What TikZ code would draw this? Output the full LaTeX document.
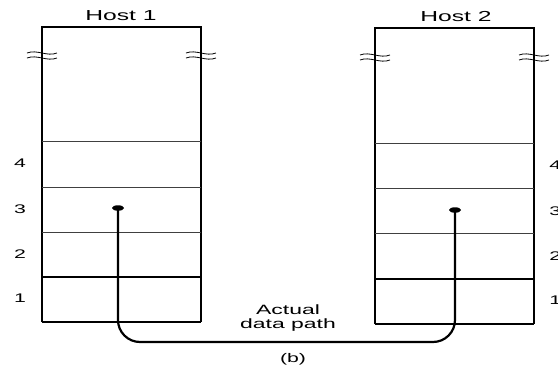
\documentclass[tikz,border=0pt]{standalone}
\usepackage{fontspec}
\setmainfont{Liberation Sans}
\usetikzlibrary{shapes.geometric}

\tikzset{
  hostlabel/.style={font=\fontsize{14.5}{16}\selectfont, xscale=1.7, inner sep=0pt},
  layernum/.style={font=\fontsize{12.5}{14}\selectfont, xscale=1.7, inner sep=0pt},
  pathlabel/.style={font=\fontsize{13.5}{14}\selectfont, xscale=1.7, inner sep=0pt, align=center},
  pathdot/.style={ellipse, fill=black, minimum width=12pt, minimum height=5.5pt, inner sep=0pt},
  layerline/.style={black!75, line width=0.7pt},
  wall/.style={line width=1.1pt},
  breakmark/.style={line width=0.8pt},
  datapath/.style={line width=2.2pt, rounded corners=22pt}
}

\begin{document}
\begin{tikzpicture}[x=1pt, y=-1pt]
    \useasboundingbox (0,0) rectangle (558,368);

    % Draw host 1
    \draw[wall] (42,322) -- (42,27) -- (201,27) -- (201,322);
    \draw[wall] (42,322) -- (201,322);
    \foreach \y in {141,187,232} \draw[layerline] (42,\y) -- (201,\y);
    \draw[wall] (42,277) -- (201,277);
    \node[hostlabel] (host1) at (121,16) {Host 1};

    % Draw host 2
    \draw[wall] (375,324) -- (375,28) -- (534,28) -- (534,324);
    \draw[wall] (375,324) -- (534,324);
    \foreach \y in {143,188,233} \draw[layerline] (375,\y) -- (534,\y);
    \draw[wall] (375,279) -- (534,279);
    \node[hostlabel] (host2) at (456,17) {Host 2};

    % Break marks on the walls
    \foreach \x/\y in {42/55, 201/55, 375/57, 534/57} {
      \draw[breakmark] (\x-15,\y-2) .. controls (\x-5,\y-6) and (\x+5,\y+2) .. (\x+15,\y-2);
      \draw[breakmark] (\x-15,\y+3) .. controls (\x-5,\y-1) and (\x+5,\y+7) .. (\x+15,\y+3);
    }

    % Layer numbers
    \foreach \n/\y in {4/163, 3/209, 2/254, 1/298} {
      \node[layernum] (l\n) at (20,\y) {\n};
      \node[layernum, anchor=west] (r\n) at (549,\y+2) {\n};
    }

    % Actual data path
    \node[pathdot] (d1) at (118,208) {};
    \node[pathdot] (d2) at (455,210) {};
    \coordinate (bend) at (290,342);
    \draw[datapath] (d1.center) |- (bend) -| (d2.center);
    \node[pathlabel] (actual) at (288,318) {Actual\\data path};
    \node[hostlabel, font=\fontsize{12.5}{14}\selectfont] (fig) at (293,359) {(b)};
\end{tikzpicture}
\end{document}
